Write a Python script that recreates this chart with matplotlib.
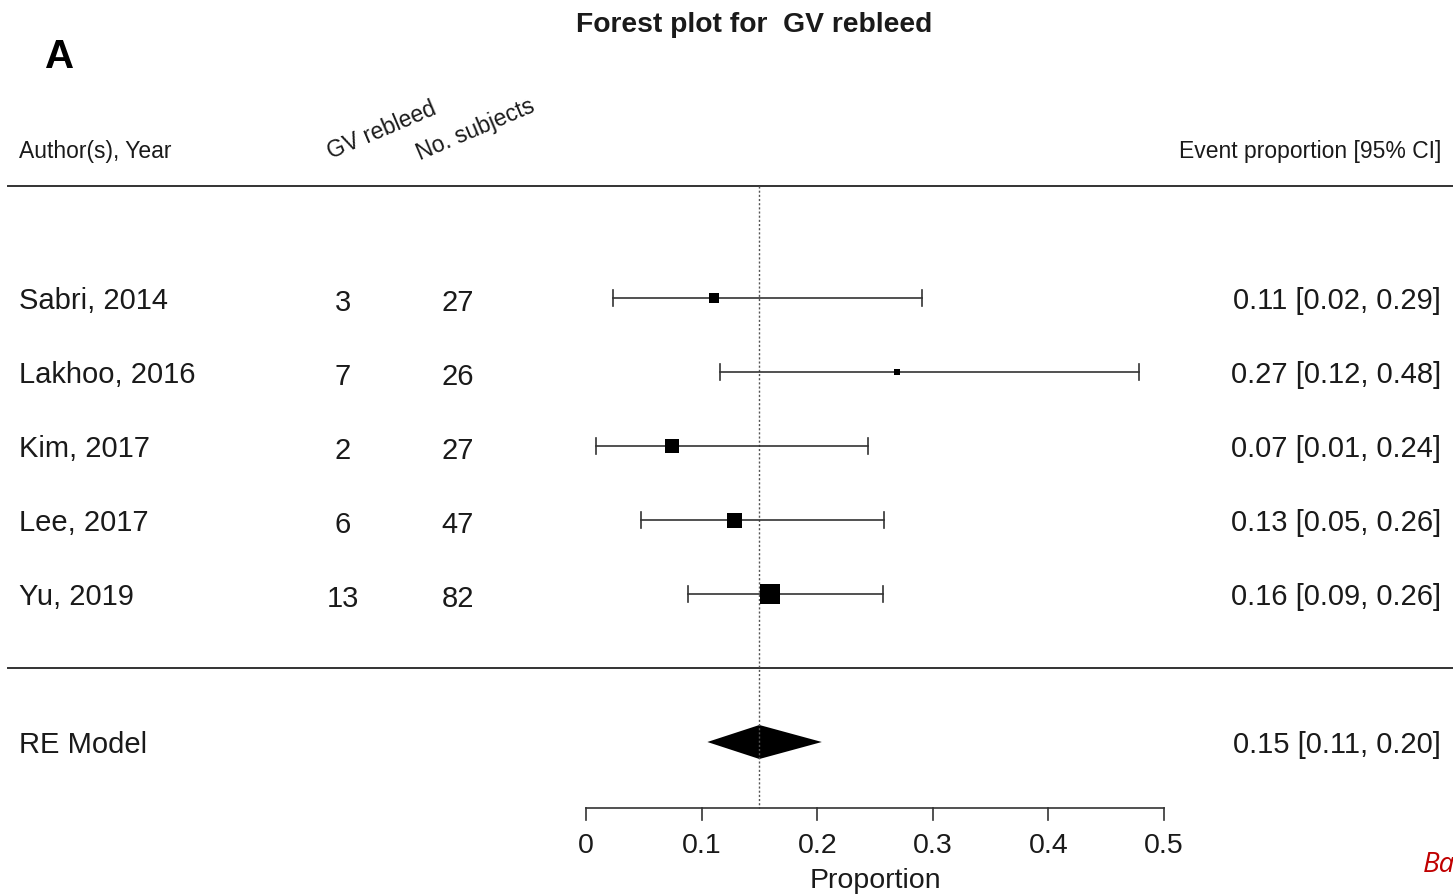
"""
Forest plot for GV rebleed: event proportions with 95% CI and RE model.
"""

import matplotlib.pyplot as plt
import matplotlib.transforms as mtransforms

plt.rcParams['font.family'] = ['Liberation Sans', 'DejaVu Sans']

# data
studies = ['Sabri, 2014', 'Lakhoo, 2016', 'Kim, 2017', 'Lee, 2017', 'Yu, 2019']
events = [3, 7, 2, 6, 13]
subjects = [27, 26, 27, 47, 82]
prop = [0.111, 0.269, 0.074, 0.128, 0.159]
ci_low = [0.023, 0.116, 0.009, 0.048, 0.088]
ci_high = [0.291, 0.478, 0.244, 0.258, 0.257]
ci_text = ['0.11 [0.02, 0.29]', '0.27 [0.12, 0.48]', '0.07 [0.01, 0.24]',
           '0.13 [0.05, 0.26]', '0.16 [0.09, 0.26]']
re_est, re_low, re_high = 0.150, 0.105, 0.204
re_text = '0.15 [0.11, 0.20]'
xticks = [0, 0.1, 0.2, 0.3, 0.4, 0.5]
xtick_labels = ['0', '0.1', '0.2', '0.3', '0.4', '0.5']

# marker sizes (px) - weights of the studies
marker_px = [10, 6, 14, 15, 20]

W, H = 1453, 894
TXT = '#1a1a1a'
LINE = '#333333'
FS = 21      # row text
FS_HEAD = 16.5

fig = plt.figure(figsize=(W / 100, H / 100), dpi=100)
ax = fig.add_axes([0, 0, 1, 1])
ax.axis('off')

# 0 -> 586 px, 0.5 -> 1164 px ; one row = 74 px, row 1 at 594 px
ax.set_xlim((0 - 586) / 1156, (W - 586) / 1156)
ax.set_ylim(1 + (594 - H) / 74, 1 + 594 / 74)


def ypx(p):
    return 1 + (594 - p) / 74


fx = lambda p: p / W
trans = mtransforms.blended_transform_factory(fig.transFigure, ax.transData)

rows = list(range(len(studies), 0, -1))
re_row = -1

# horizontal separators
ax.plot([fx(8), 1], [ypx(186)] * 2, color=LINE, lw=1.4, transform=trans)
ax.plot([fx(8), 1], [ypx(668)] * 2, color=LINE, lw=1.4, transform=trans)

# reference line at the pooled estimate
ax.plot([re_est, re_est], [ypx(186), ypx(808)], color='#555555', lw=1, ls=(0, (1.5, 1.5)))

# studies
for r, name, e, n, p, lo, hi, s, ms in zip(rows, studies, events, subjects, prop,
                                           ci_low, ci_high, ci_text, marker_px):
    ax.plot([lo, hi], [r, r], color=LINE, lw=1.2)
    cap = 8 / 74
    ax.plot([lo, lo], [r - cap, r + cap], color=LINE, lw=1.2)
    ax.plot([hi, hi], [r - cap, r + cap], color=LINE, lw=1.2)
    ax.plot(p, r, marker='s', ms=ms * 0.72, color='black', mec='black', mew=0)
    ax.text(fx(19), r, name, transform=trans, ha='left', va='center_baseline',
            fontsize=FS, color=TXT)
    ax.text(fx(343), r - 2 / 74, str(e), transform=trans, ha='center',
            va='center_baseline', fontsize=FS, color=TXT)
    ax.text(fx(458), r - 2 / 74, str(n), transform=trans, ha='center',
            va='center_baseline', fontsize=FS, color=TXT)
    ax.text(fx(1441), r, s, transform=trans, ha='right', va='center_baseline',
            fontsize=FS, color=TXT)

# RE model diamond
dh = 17 / 74
ax.fill([re_low, re_est, re_high, re_est], [re_row, re_row + dh, re_row, re_row - dh],
        color='black', lw=0)
ax.text(fx(19), re_row, 'RE Model', transform=trans, ha='left', va='center_baseline',
        fontsize=FS, color=TXT)
ax.text(fx(1441), re_row, re_text, transform=trans, ha='right', va='center_baseline',
        fontsize=FS, color=TXT)

# x axis drawn by hand
y_ax = ypx(808)
ax.plot([xticks[0], xticks[-1]], [y_ax, y_ax], color=LINE, lw=1.2)
for t, lab in zip(xticks, xtick_labels):
    ax.plot([t, t], [y_ax, ypx(820)], color=LINE, lw=1.2)
    ax.text(t, ypx(843), lab, ha='center', va='center_baseline', fontsize=20.5, color=TXT)
ax.text(0.25, ypx(878), 'Proportion', ha='center', va='center_baseline',
        fontsize=20.5, color=TXT)

# headers
ax.text(fx(19), ypx(149), 'Author(s), Year', transform=trans, ha='left',
        va='center_baseline', fontsize=FS_HEAD, color=TXT)
ax.text(fx(1441), ypx(149), 'Event proportion [95% CI]', transform=trans, ha='right',
        va='center_baseline', fontsize=FS_HEAD, color=TXT)
fig.text(fx(331), 1 - 159 / H, 'GV rebleed', rotation=23, rotation_mode='anchor',
         ha='left', va='baseline', fontsize=FS_HEAD, color=TXT)
fig.text(fx(420), 1 - 160 / H, 'No. subjects', rotation=23, rotation_mode='anchor',
         ha='left', va='baseline', fontsize=FS_HEAD, color=TXT)

fig.text(fx(754), 1 - 22 / H, 'Forest plot for  GV rebleed', ha='center',
         va='center_baseline', fontsize=20.3, fontweight='bold', color=TXT)
fig.text(fx(45), 1 - 53 / H, 'A', ha='left', va='center_baseline', fontsize=29,
         fontweight='bold', color='black')
fig.text(fx(1423), 1 - 862 / H, 'Ba', ha='left', va='center_baseline', fontsize=20,
         style='italic', color='#c00000', family=['Open Sans', 'DejaVu Sans'])

fig.savefig('out.png', dpi=100)
